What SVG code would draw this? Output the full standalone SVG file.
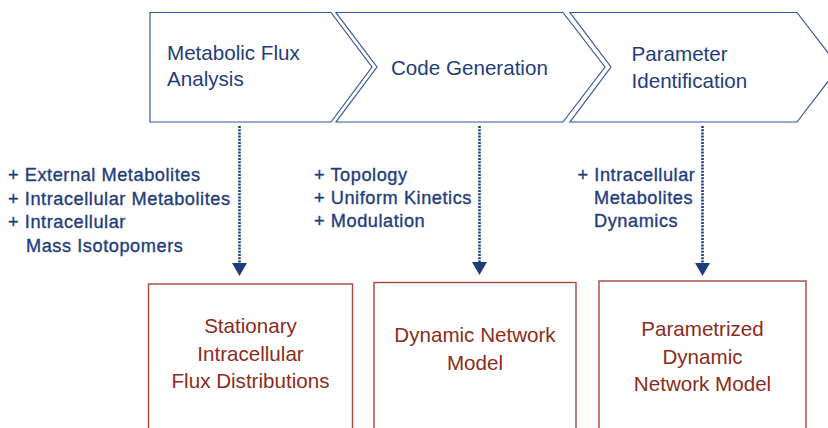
<svg xmlns="http://www.w3.org/2000/svg" width="828" height="428" viewBox="0 0 828 428">
<style>
.chev{fill:#fff;stroke:#34589A;stroke-width:1.2;stroke-linejoin:miter}
.ct{font-family:"Liberation Sans",Arial,sans-serif;font-size:20.6px;fill:#1F3D7C}
.bt{font-family:"Liberation Sans",Arial,sans-serif;font-size:18.2px;letter-spacing:0.55px;fill:#1F3D7C;stroke:#1F3D7C;stroke-width:0.35px}
.box{fill:#fff;stroke:#A8453A;stroke-width:1.4}
.rt{font-family:"Liberation Sans",Arial,sans-serif;font-size:20.6px;fill:#8B2C20;text-anchor:middle}
.arr{stroke:#1F3D7C;stroke-width:2.6;stroke-dasharray:2 1.2;fill:none}
</style>
<defs>
<marker id="ah" markerUnits="userSpaceOnUse" viewBox="0 -8 14 16" refX="0" refY="0" markerWidth="14" markerHeight="16" orient="auto">
<path d="M0,-7.5 L13,0 L0,7.5 Z" fill="#1F3D7C"/>
</marker>
</defs>
<rect width="828" height="428" fill="#fff"/>
<g id="step1">
<path class="chev" d="M150,12.5 L331,12.5 L372,67 L331,122 L150,122 Z"/>
<text class="ct" x="167" y="59.5">Metabolic Flux</text>
<text class="ct" x="167" y="86">Analysis</text>
</g>
<g id="step2">
<path class="chev" d="M336,12.5 L563,12.5 L605,67 L563,122 L336,122 L377,67 Z"/>
<text class="ct" x="391" y="75">Code Generation</text>
</g>
<g id="step3">
<path class="chev" d="M570,12.5 L797,12.5 L839,67 L797,122 L570,122 L611,67 Z"/>
<text class="ct" x="631.5" y="61">Parameter</text>
<text class="ct" x="631.5" y="88">Identification</text>
</g>
<g id="inputs1">
<text class="bt" x="8" y="181">+ External Metabolites</text>
<text class="bt" x="8" y="204.5">+ Intracellular Metabolites</text>
<text class="bt" x="8" y="228">+ Intracellular</text>
<text class="bt" x="26" y="251.5">Mass Isotopomers</text>
</g>
<g id="inputs2">
<text class="bt" x="314" y="181">+ Topology</text>
<text class="bt" x="314" y="204">+ Uniform Kinetics</text>
<text class="bt" x="314" y="227">+ Modulation</text>
</g>
<g id="inputs3">
<text class="bt" x="577.5" y="181">+ Intracellular</text>
<text class="bt" x="594" y="204">Metabolites</text>
<text class="bt" x="594" y="227">Dynamics</text>
</g>
<g id="result1">
<rect class="box" x="148.5" y="284" width="204" height="170"/>
<text class="rt" x="250.5" y="333">Stationary</text>
<text class="rt" x="250.5" y="360.5">Intracellular</text>
<text class="rt" x="250.5" y="388">Flux Distributions</text>
</g>
<g id="result2">
<rect class="box" x="374" y="282.5" width="202" height="170"/>
<text class="rt" x="475" y="341.5">Dynamic Network</text>
<text class="rt" x="475" y="370">Model</text>
</g>
<g id="result3">
<rect class="box" x="599" y="281" width="207" height="170"/>
<text class="rt" x="702.5" y="336">Parametrized</text>
<text class="rt" x="702.5" y="364">Dynamic</text>
<text class="rt" x="702.5" y="391">Network Model</text>
</g>
<g id="connectors">
<line class="arr" x1="239.5" y1="126" x2="239.5" y2="263" marker-end="url(#ah)"/>
<line class="arr" x1="479.5" y1="126" x2="479.5" y2="262" marker-end="url(#ah)"/>
<line class="arr" x1="702.5" y1="126" x2="702.5" y2="263" marker-end="url(#ah)"/>
</g>
</svg>
